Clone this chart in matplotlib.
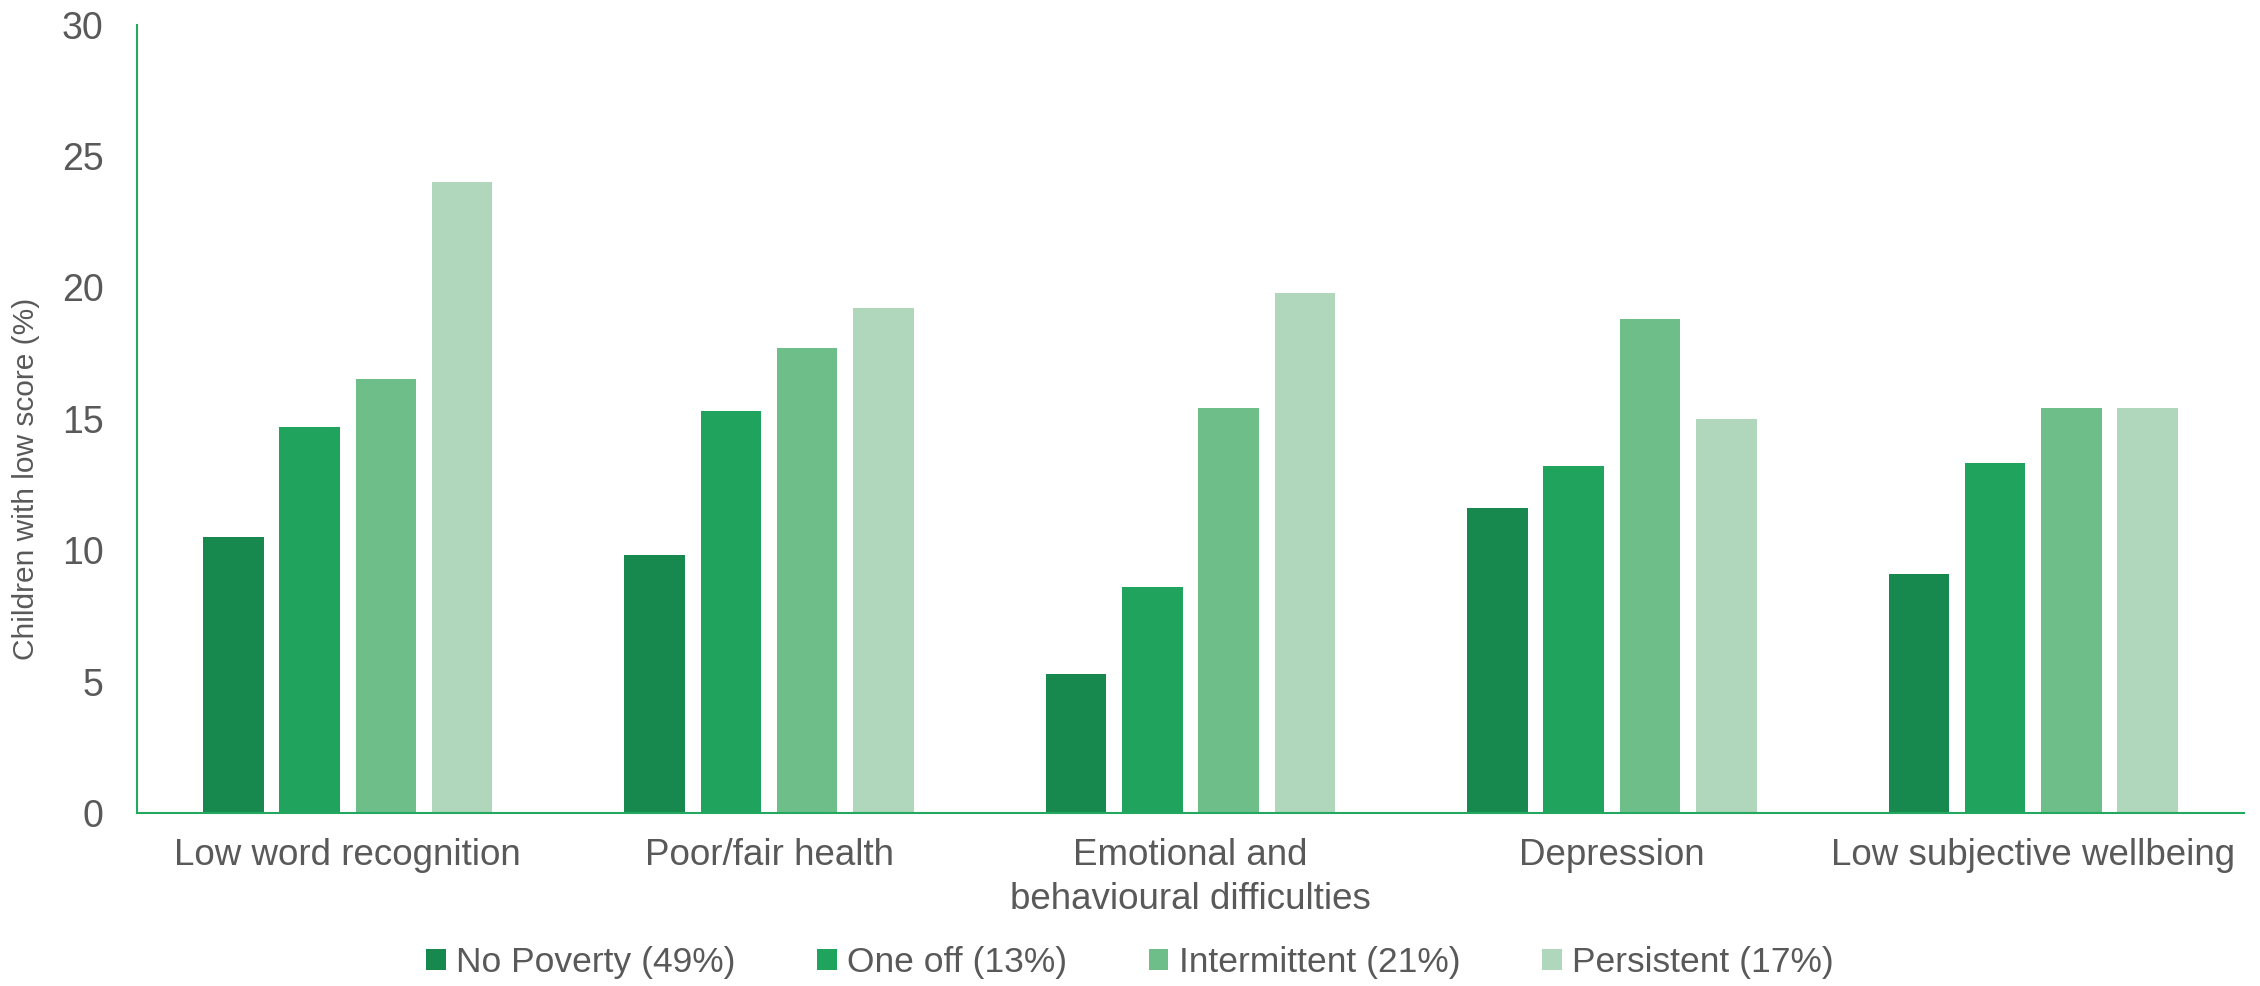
import numpy as np
import matplotlib.pyplot as plt

# data
categories = ["Low word recognition", "Poor/fair health",
              "Emotional and\nbehavioural difficulties", "Depression",
              "Low subjective wellbeing"]
series_names = ["No Poverty (49%)", "One off (13%)", "Intermittent (21%)", "Persistent (17%)"]
no_poverty = [10.5, 9.8, 5.3, 11.6, 9.1]
one_off = [14.7, 15.3, 8.6, 13.2, 13.3]
intermittent = [16.5, 17.7, 15.4, 18.8, 15.4]
persistent = [24.0, 19.2, 19.8, 15.0, 15.4]

colors = ["#17894E", "#20A45D", "#6EBE89", "#B0D6BB"]
text_col = "#595959"
axis_col = "#22A85F"

plt.rcParams["font.family"] = ["Liberation Sans", "DejaVu Sans"]

fig = plt.figure(figsize=(22.6, 9.86), dpi=100)
ax = fig.add_axes([0.0606, 0.1755, 0.9323, 0.7995])

x = np.arange(len(categories))
width = 0.1436
pitch = 0.181
all_series = [no_poverty, one_off, intermittent, persistent]
for i, (vals, name, c) in enumerate(zip(all_series, series_names, colors)):
    offset = (i - 1.5) * pitch
    ax.bar(x + offset, vals, width, color=c, label=name)

ax.set_xlim(-0.5, len(categories) - 0.5)
ax.set_ylim(0, 30)
ax.set_yticks(range(0, 31, 5))
ax.set_xticks(x)
ax.set_xticklabels(categories, fontsize=26.5, color=text_col, linespacing=1.32)
ax.tick_params(axis="y", labelsize=27, labelcolor=text_col, length=0, pad=24)
ax.tick_params(axis="x", length=0, pad=18)

for s in ["top", "right"]:
    ax.spines[s].set_visible(False)
for s in ["left", "bottom"]:
    ax.spines[s].set_color(axis_col)
    ax.spines[s].set_linewidth(1.5)

ax.set_ylabel("Children with low score (%)", fontsize=21.5, color=text_col)
ax.yaxis.set_label_coords(-0.046, 0.424)

fig.legend(loc="center", bbox_to_anchor=(0.5, 0.024), ncol=4, frameon=False,
           fontsize=25.5, labelcolor=text_col, handlelength=0.55, handleheight=0.55,
           handletextpad=0.3, columnspacing=2.3)

plt.savefig("out.png", dpi=100)
